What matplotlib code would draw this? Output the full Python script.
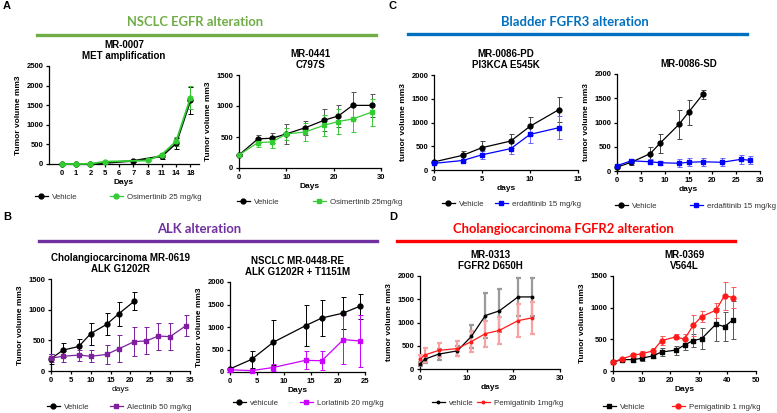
import matplotlib
matplotlib.use("Agg")
import matplotlib.pyplot as plt
from matplotlib.lines import Line2D

W, H = 777, 413

# ---- data ----
# A1: MR-0007 (categorical days)
a1_days = ["0", "1", "2", "5", "6", "7", "8", "11", "14", "18"]
a1_veh_idx = [0, 1, 2, 5, 7, 8, 9]
a1_veh = [0, 0, 0, 80, 200, 530, 1620]
a1_veh_err = [5, 5, 5, 20, 70, 140, 350]
a1_osi_idx = [0, 1, 2, 3, 6, 7, 8, 9]
a1_osi = [0, 0, 5, 60, 90, 240, 580, 1690]
a1_osi_err = [5, 5, 5, 20, 20, 50, 110, 290]

# A2: MR-0441
a2_veh_d = [0, 4, 7, 10, 14, 18, 21, 24, 28]
a2_veh = [210, 470, 480, 550, 650, 770, 840, 1010, 1010]
a2_veh_err = [20, 70, 80, 160, 110, 180, 180, 220, 180]
a2_osi_d = [0, 4, 7, 10, 14, 18, 21, 24, 28]
a2_osi = [210, 410, 420, 550, 580, 690, 750, 790, 900]
a2_osi_err = [20, 70, 90, 100, 140, 170, 200, 210, 220]

# C1: MR-0086-PD
c1_veh_d = [0, 3, 5, 8, 10, 13]
c1_veh = [170, 310, 470, 610, 920, 1270]
c1_veh_err = [30, 90, 140, 150, 190, 260]
c1_erd_d = [0, 3, 5, 8, 10, 13]
c1_erd = [140, 200, 320, 450, 750, 890]
c1_erd_err = [20, 40, 90, 110, 190, 240]

# C2: MR-0086-SD
c2_veh_d = [0, 3, 7, 9, 13, 15, 18]
c2_veh = [80, 180, 360, 570, 960, 1210, 1580]
c2_veh_err = [20, 60, 130, 190, 290, 260, 90]
c2_erd_d = [0, 3, 7, 9, 13, 15, 18, 22, 26, 28]
c2_erd = [110, 210, 190, 170, 160, 180, 190, 180, 240, 220]
c2_erd_err = [20, 40, 50, 40, 80, 80, 80, 80, 90, 80]

# B1: MR-0619
b1_veh_d = [0, 3, 7, 10, 14, 17, 21]
b1_veh = [200, 340, 400, 610, 760, 930, 1140]
b1_veh_err = [80, 110, 120, 180, 180, 200, 140]
b1_ale_d = [0, 3, 7, 10, 14, 17, 21, 24, 27, 30, 34]
b1_ale = [210, 240, 260, 240, 270, 360, 480, 490, 570, 560, 740]
b1_ale_err = [60, 90, 90, 100, 150, 220, 240, 220, 220, 220, 170]

# B2: MR-0448-RE
b2_veh_d = [0, 4, 8, 14, 17, 21, 24]
b2_veh = [70, 280, 660, 1030, 1200, 1310, 1460]
b2_veh_err = [30, 190, 500, 450, 390, 360, 280]
b2_lor_d = [0, 4, 8, 14, 17, 21, 24]
b2_lor = [50, 30, 100, 260, 250, 720, 690]
b2_lor_err = [20, 30, 80, 200, 210, 550, 580]

# D1: MR-0313
d1_veh_d = [0, 1, 4, 8, 11, 14, 17, 21, 24]
d1_veh = [110, 210, 320, 390, 700, 1150, 1250, 1550, 1550]
d1_veh_err = [50, 80, 120, 100, 240, 480, 460, 410, 410]
d1_pem_d = [0, 1, 4, 8, 11, 14, 17, 21, 24]
d1_pem = [210, 300, 400, 440, 590, 760, 830, 1040, 1100]
d1_pem_err = [100, 160, 150, 160, 220, 280, 290, 350, 340]

# D2: MR-0369
d2_veh_d = [0, 3, 7, 10, 14, 17, 22, 25, 28, 31, 36, 39, 42]
d2_veh = [140, 180, 180, 200, 240, 300, 330, 410, 480, 510, 740, 700, 810]
d2_veh_err = [20, 20, 30, 40, 40, 60, 70, 80, 100, 170, 260, 230, 300]
d2_pem_d = [0, 3, 7, 10, 14, 17, 22, 25, 28, 31, 36, 39, 42]
d2_pem = [140, 190, 250, 270, 320, 480, 540, 500, 720, 860, 960, 1190, 1160]
d2_pem_err = [20, 20, 30, 50, 50, 70, 40, 90, 160, 80, 120, 220, 170]

GREEN = "#33cc33"
BLUE = "#0000ff"
PURPLE = "#7f1fa0"
MAGENTA = "#cc00ff"
RED = "#ff1a1a"

plt.rcParams["font.family"] = ["Liberation Sans", "DejaVu Sans"]
plt.rcParams["font.weight"] = "bold"

fig = plt.figure(figsize=(W / 100, H / 100), dpi=100)


def make_ax(x0, x1, y0, y1):
    ax = fig.add_axes([x0 / W, 1 - y1 / H, (x1 - x0) / W, (y1 - y0) / H])
    for s in ["top", "right"]:
        ax.spines[s].set_visible(False)
    for s in ["left", "bottom"]:
        ax.spines[s].set_linewidth(0.9)
    ax.tick_params(labelsize=5.5, width=0.9, length=2.5, pad=1.5)
    return ax


def series(ax, x, y, e, color, marker, ms=3.5, ecolor=None, elw=0.7, lw=0.9):
    ax.errorbar(x, y, yerr=e, color=color, marker=marker, markersize=ms,
                lw=lw, elinewidth=elw, capsize=1.8, capthick=elw,
                ecolor=ecolor or color, clip_on=False, zorder=3)


def key(label, color, marker, x, y, ms=3.5):
    h = Line2D([], [], color=color, marker=marker, markersize=ms, lw=0.9)
    leg = fig.legend([h], [label], loc="center left",
                     bbox_to_anchor=(x / W, 1 - y / H), frameon=False,
                     handlelength=1.6, handletextpad=0.5, borderpad=0,
                     borderaxespad=0,
                     prop={"size": 5.7, "weight": "normal"})
    for t in leg.get_texts():
        t.set_color("#333333")


def labels(ax, title, xl, yl="Tumor volume mm3"):
    ax.set_title(title, fontsize=7, fontweight="bold", pad=5, linespacing=1.15)
    ax.set_xlabel(xl, fontsize=6, fontweight="bold", labelpad=2)
    ax.set_ylabel(yl, fontsize=6, fontweight="bold", labelpad=3)


# ---- section headers ----
def header(text, color, cx, ty, lx0, lx1, ly, letter, lx, lyy):
    fig.text(cx / W, 1 - ty / H, text, color=color, fontsize=9.4,
             fontweight="bold", family="Lato", ha="center", va="center")
    fig.add_artist(Line2D([lx0 / W, lx1 / W], [1 - ly / H, 1 - ly / H],
                          color=color, lw=2.4))
    fig.text(lx / W, 1 - lyy / H, letter, fontsize=8, fontweight="bold",
             ha="left", va="center")


header("NSCLC EGFR alteration", "#70ad47", 195, 22, 37, 376, 34.5, "A", 3, 6)
header("Bladder FGFR3 alteration", "#0070c0", 575, 22, 408, 747, 34.3, "C", 389, 6)
header("ALK alteration", "#7030a0", 199, 229, 39, 377, 241, "B", 3, 217)
header("Cholangiocarcinoma FGFR2 alteration", "#ff0000", 563, 229, 397, 735, 241, "D", 389, 217)

# ---- A1 ----
ax = make_ax(49, 199, 66, 164)
series(ax, a1_veh_idx, a1_veh, a1_veh_err, "black", "o", lw=1.3)
series(ax, a1_osi_idx, a1_osi, a1_osi_err, GREEN, "o", lw=1.3)
ax.set_xticks(range(len(a1_days)))
ax.set_xticklabels(a1_days)
ax.set_xlim(-0.9, 9.6)
ax.set_ylim(0, 2500)
ax.set_yticks([0, 500, 1000, 1500, 2000, 2500])
labels(ax, "MR-0007\nMET amplification", "Days")
key("Vehicle", "black", "o", 35, 197)
key("Osimertinib 25 mg/kg", GREEN, "o", 110, 197)

# ---- A2 ----
ax = make_ax(239, 381, 75, 168)
series(ax, a2_veh_d, a2_veh, a2_veh_err, "black", "o", ecolor="#555555")
series(ax, a2_osi_d, a2_osi, a2_osi_err, GREEN, "s")
ax.set_xlim(0, 30)
ax.set_ylim(0, 1500)
ax.set_xticks([0, 10, 20, 30])
ax.set_yticks([0, 500, 1000, 1500])
labels(ax, "MR-0441\nC797S", "Days")
key("Vehicle", "black", "o", 237, 202)
key("Osimertinib 25mg/kg", GREEN, "s", 313, 202)

# ---- C1 ----
ax = make_ax(434, 578, 75, 170)
series(ax, c1_veh_d, c1_veh, c1_veh_err, "black", "o", ecolor="#444444")
series(ax, c1_erd_d, c1_erd, c1_erd_err, BLUE, "s", ecolor="#6666ff")
ax.set_xlim(0, 15)
ax.set_ylim(0, 2000)
ax.set_xticks([0, 5, 10, 15])
ax.set_yticks([0, 500, 1000, 1500, 2000])
labels(ax, "MR-0086-PD\nPI3KCA E545K", "days", "tumor volume mm3")
key("Vehicle", "black", "o", 442, 204)
key("erdafitinib 15 mg/kg", BLUE, "s", 495, 204)

# ---- C2 ----
ax = make_ax(617, 760, 74, 171)
series(ax, c2_veh_d, c2_veh, c2_veh_err, "black", "o", ecolor="#444444")
series(ax, c2_erd_d, c2_erd, c2_erd_err, BLUE, "s", ecolor="#6666ff")
ax.set_xlim(0, 30)
ax.set_ylim(0, 2000)
ax.set_xticks([0, 5, 10, 15, 20, 25, 30])
ax.set_yticks([0, 500, 1000, 1500, 2000])
labels(ax, "MR-0086-SD", "days", "tumor volume mm3")
key("Vehicle", "black", "o", 615, 206)
key("erdafitinib 15 mg/kg", BLUE, "s", 690, 206)

# ---- B1 ----
ax = make_ax(51, 190, 279, 371)
series(ax, b1_veh_d, b1_veh, b1_veh_err, "black", "o")
series(ax, b1_ale_d, b1_ale, b1_ale_err, PURPLE, "s")
ax.set_xlim(0, 35)
ax.set_ylim(0, 1500)
ax.set_xticks(range(0, 36, 5))
ax.set_yticks([0, 500, 1000, 1500])
labels(ax, "Cholangiocarcinoma MR-0619\nALK G1202R", "days")
ax.xaxis.label.set_fontweight("normal")
key("Vehicle", "black", "o", 47, 407)
key("Alectinib 50 mg/kg", PURPLE, "s", 110, 407)

# ---- B2 ----
ax = make_ax(230, 365, 282, 372)
series(ax, b2_veh_d, b2_veh, b2_veh_err, "black", "o")
series(ax, b2_lor_d, b2_lor, b2_lor_err, MAGENTA, "s")
ax.set_xlim(0, 25)
ax.set_ylim(0, 2000)
ax.set_xticks(range(0, 26, 5))
ax.set_yticks([0, 500, 1000, 1500, 2000])
labels(ax, "NSCLC MR-0448-RE\nALK G1202R + T1151M", "Days")
key("véhicule", "black", "o", 233, 403)
key("Lorlatinib 20 mg/kg", MAGENTA, "s", 300, 403)

# ---- D1 ----
ax = make_ax(420, 560, 276, 369)
series(ax, d1_veh_d, d1_veh, d1_veh_err, "black", "o", ms=1.8,
       ecolor="#9a9a9a", elw=1.6)
series(ax, d1_pem_d, d1_pem, d1_pem_err, RED, "o", ms=1.8,
       ecolor="#f7a3a3", elw=1.6)
ax.set_xlim(0, 30)
ax.set_ylim(0, 2000)
ax.set_xticks([0, 10, 20, 30])
ax.set_yticks([0, 500, 1000, 1500, 2000])
labels(ax, "MR-0313\nFGFR2 D650H", "days", "tumor volume mm3")
key("vehicle", "black", "o", 432, 403, ms=1.8)
key("Pemigatinib 1mg/kg", RED, "o", 477, 403, ms=1.8)

# ---- D2 ----
ax = make_ax(613, 756, 276, 371)
series(ax, d2_veh_d, d2_veh, d2_veh_err, "black", "s", ecolor="#555555")
series(ax, d2_pem_d, d2_pem, d2_pem_err, RED, "o", ecolor="#ff5555")
ax.set_xlim(0, 50)
ax.set_ylim(0, 1500)
ax.set_xticks([0, 10, 20, 30, 40, 50])
ax.set_yticks([0, 500, 1000, 1500])
labels(ax, "MR-0369\nV564L", "Days")
key("Vehicle", "black", "s", 603, 407)
key("Pemigatinib 1 mg/kg", RED, "o", 672, 407)

fig.savefig("out.png", dpi=100)
